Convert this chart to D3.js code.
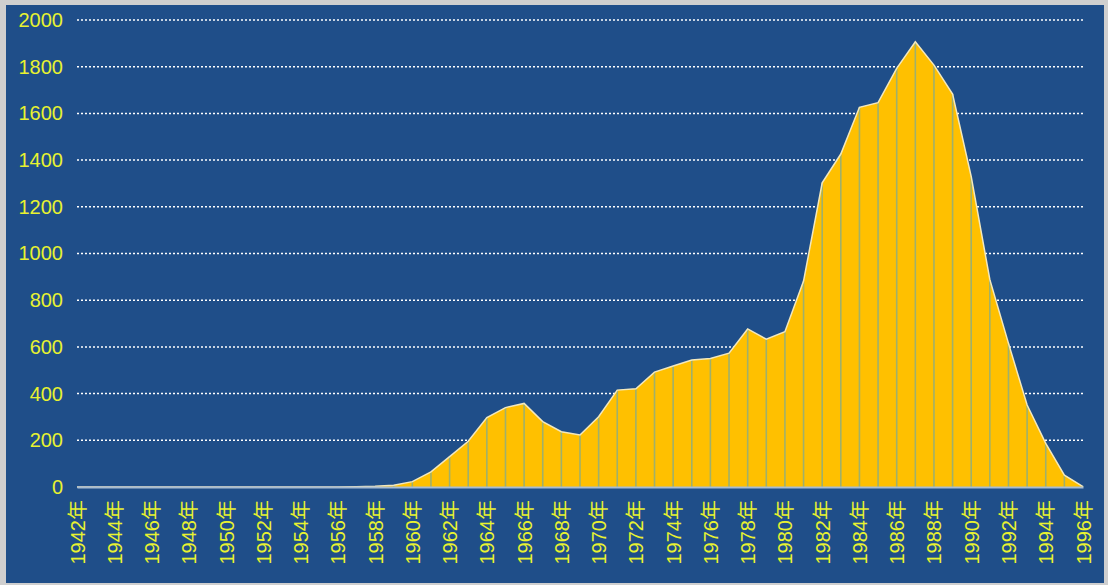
<!DOCTYPE html>
<html>
<head>
<meta charset="utf-8">
<script src="https://cdn.jsdelivr.net/npm/d3@7"></script>
<style>
  body { margin: 0; background: #cfcfcf; }
  svg text { font-family: "Liberation Sans", Arial, "Noto Sans CJK SC", sans-serif; }
</style>
</head>
<body>
<div id="chart"></div>
<script>
const years = d3.range(1942, 1997);
const values = [
  0, 0, 0, 0, 0, 0, 0, 0, 0, 0,        // 1942-1951
  0, 0, 0, 0, 0, 1, 3, 8, 23, 65,      // 1952-1961
  130, 196, 297, 340, 358, 280, 237, 223, 301, 415, // 1962-1971
  421, 492, 518, 544, 550, 573, 677, 633, 665, 882, // 1972-1981
  1303, 1426, 1626, 1646, 1793, 1907, 1807, 1683, 1329, 888, // 1982-1991
  615, 351, 187, 51, 2                  // 1992-1996
];
const yTicks = [0, 200, 400, 600, 800, 1000, 1200, 1400, 1600, 1800, 2000];

const data = years.map((y, i) => ({ year: y, value: values[i] }));

const W = 1108, H = 585;
const margin = { top: 20, right: 25, bottom: 98, left: 77 };
const width = W - margin.left - margin.right,
  height = H - margin.top - margin.bottom;

const root = d3.select("#chart").append("svg")
  .attr("width", W)
  .attr("height", H);

root.append("rect")
  .attr("x", 6).attr("y", 5)
  .attr("width", 1098).attr("height", 578)
  .attr("fill", "#1f4e89");

const svg = root.append("g")
  .attr("transform", "translate(" + margin.left + "," + margin.top + ")");

const x = d3.scaleLinear()
  .domain([1942, 1996])
  .range([0, width]);

const y = d3.scaleLinear()
  .domain([0, 2000])
  .range([height, 0]);

// gridlines
svg.append("g")
  .selectAll("line")
  .data(yTicks.filter(d => d > 0))
  .enter()
  .append("line")
  .attr("x1", 0)
  .attr("x2", width)
  .attr("y1", d => y(d))
  .attr("y2", d => y(d))
  .attr("stroke", "#ffffff")
  .attr("stroke-width", 1.5)
  .attr("stroke-dasharray", "2,2");

// area
svg.append("path")
  .datum(data)
  .attr("fill", "#ffc000")
  .attr("d", d3.area()
    .x(d => x(d.year))
    .y0(y(0))
    .y1(d => y(d.value))
  );

// drop lines
svg.append("g")
  .selectAll("line")
  .data(data.filter(d => d.value > 0))
  .enter()
  .append("line")
  .attr("x1", d => x(d.year))
  .attr("x2", d => x(d.year))
  .attr("y1", d => y(d.value))
  .attr("y2", y(0))
  .attr("stroke", "#9fb06c")
  .attr("stroke-width", 1.6);

// top line
svg.append("path")
  .datum(data)
  .attr("fill", "none")
  .attr("stroke", "#f3e8bd")
  .attr("stroke-width", 1.5)
  .attr("d", d3.line()
    .x(d => x(d.year))
    .y(d => y(d.value))
  );

// y axis labels
const yAxis = svg.append("g")
  .call(d3.axisLeft(y).tickValues(yTicks).tickSize(0).tickPadding(14)
    .tickFormat(d3.format("d")));
yAxis.select(".domain").remove();
yAxis.selectAll("text")
  .attr("fill", "#e8f230")
  .attr("font-size", 20);

// x axis
const xAxis = svg.append("g")
  .attr("transform", "translate(0," + height + ")")
  .call(d3.axisBottom(x)
    .tickValues(years.filter(d => (d - 1942) % 2 === 0))
    .tickSize(0)
    .tickFormat(d => d + "年"));
xAxis.select(".domain")
  .attr("stroke", "#a8bcd2")
  .attr("stroke-width", 2);
xAxis.selectAll("text")
  .attr("fill", "#e8f230")
  .attr("font-size", 20)
  .attr("text-anchor", "end")
  .attr("dy", "0.35em")
  .attr("transform", "translate(0,13) rotate(-90)")
  .attr("x", 0)
  .attr("y", 0);
</script>
</body>
</html>
